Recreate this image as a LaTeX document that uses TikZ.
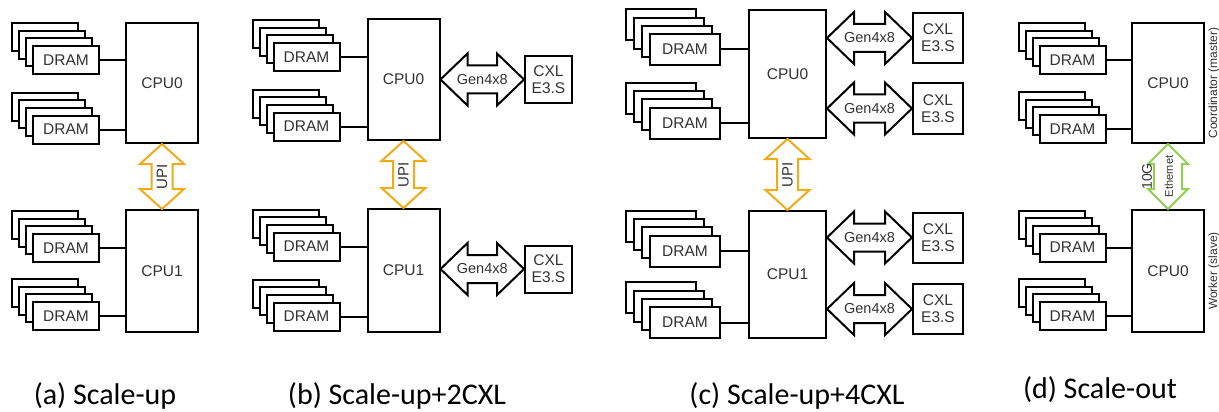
\documentclass[tikz,border=0pt]{standalone}
\usepackage{fontspec}
\setmainfont{Liberation Sans}
\newfontfamily\capfont{Carlito}
\usetikzlibrary{positioning,calc}

\definecolor{upiorange}{RGB}{240,172,24}
\definecolor{ethgreen}{RGB}{146,208,80}

\tikzset{
  unitnode/.style={draw,line width=2pt,fill=white,inner sep=0pt,text=black!80},
  dramnode/.style={unitnode,minimum width=66pt,minimum height=28pt,font=\fontsize{15.5}{18}\selectfont},
  cpunode/.style={unitnode,minimum width=72pt,minimum height=121pt,font=\fontsize{15.5}{18}\selectfont},
  cxlnode/.style={unitnode,minimum width=47pt,minimum height=47pt,align=center,font=\fontsize{15.5}{17}\selectfont},
  wire/.style={line width=2pt},
  pcielink/.style={draw=black,fill=white,line width=2pt},
  upilink/.style={draw=upiorange,fill=white,line width=2pt},
  ethlink/.style={draw=ethgreen,fill=white,line width=2pt},
  linktext/.style={text=black!80,inner sep=0pt},
  captext/.style={font=\capfont\fontsize{30}{34}\selectfont,anchor=base},
}

% stack of DRAM modules: [style]{name}{x}{y} of the front module
\newcommand{\dramdx}{7}
\newcommand{\dramdy}{7.6}
\newcommand{\dramstack}[4][]{%
  \foreach \k in {3,2,1}
    \node[dramnode,#1] (#2-\k) at (#3-\dramdx*\k,#4-\dramdy*\k) {};
  \node[dramnode,#1] (#2) at (#3,#4) {DRAM};
}

% Gen4x8 double arrow from a CPU to a CXL device
\newcommand{\hlink}[2]{%
  \draw[pcielink] (#1.east |- #2.west) -- ++(27,-26) -- ++(0,12)
    -- ($(#2.west)+(-27,-14)$) -- ++(0,-12) -- (#2.west) -- ++(-27,26)
    -- ++(0,-12) -- ($(#1.east |- #2.west)+(27,14)$) -- ++(0,12) -- cycle;
  \node[linktext,font=\fontsize{14.5}{16}\selectfont] (#2-lbl)
    at ($(#1.east |- #2.west)!0.5!(#2.west)$) {Gen4x8};
}

% vertical double arrow: style, upper CPU, lower CPU, head half width, shaft half width
\newcommand{\vlink}[5]{%
  \draw[#1] (#2.south) -- ++(#4,20) -- ++(#5-#4,0)
    -- ($(#3.north)+(#5,-20)$) -- ++(#4-#5,0) -- (#3.north) -- ++(-#4,-20)
    -- ++(#4-#5,0) -- ($(#2.south)+(-#5,20)$) -- ++(#5-#4,0) -- cycle;
}

\begin{document}
\begin{tikzpicture}[x=1pt,y=-1pt]
    \useasboundingbox (0,0) rectangle (1219,412);

    % (a) Scale-up
    \node[cpunode,minimum height=120pt] (cpuA0) at (162,83) {CPU0};
    \node[cpunode,minimum height=122pt] (cpuA1) at (162,271) {CPU1};
    \dramstack{dramA0a}{66}{60}
    \dramstack{dramA0b}{66}{129.5}
    \dramstack{dramA1a}{66}{248}
    \dramstack{dramA1b}{66}{316}
    \foreach \d/\c in {dramA0a/cpuA0,dramA0b/cpuA0,dramA1a/cpuA1,dramA1b/cpuA1}
        \draw[wire] (\d.east) -- (\d.east -| \c.west);
    \vlink{upilink}{cpuA0}{cpuA1}{22}{10.5}
    \node[linktext,rotate=90,font=\fontsize{15}{17}\selectfont] (upiA)
        at ($(cpuA0.south)!0.5!(cpuA1.north)$) {UPI};

    % (b) Scale-up+2CXL
    \node[cpunode] (cpuB0) at (403.5,79.5) {CPU0};
    \node[cpunode,minimum height=123pt] (cpuB1) at (403.5,270.5) {CPU1};
    \dramstack{dramB0a}{306.5}{57}
    \dramstack{dramB0b}{306.5}{126.5}
    \dramstack{dramB1a}{306.5}{246.5}
    \dramstack{dramB1b}{306.5}{316.5}
    \foreach \d/\c in {dramB0a/cpuB0,dramB0b/cpuB0,dramB1a/cpuB1,dramB1b/cpuB1}
        \draw[wire] (\d.east) -- (\d.east -| \c.west);
    \node[cxlnode] (cxlB0) at (548.5,79.5) {CXL\\E3.S};
    \node[cxlnode] (cxlB1) at (548.5,269) {CXL\\E3.S};
    \hlink{cpuB0}{cxlB0}
    \hlink{cpuB1}{cxlB1}
    \vlink{upilink}{cpuB0}{cpuB1}{22}{10.5}
    \node[linktext,rotate=90,font=\fontsize{15}{17}\selectfont] (upiB)
        at ($(cpuB0.south)!0.5!(cpuB1.north)$) {UPI};

    % (c) Scale-up+4CXL
    \begin{scope}
    \renewcommand{\dramdx}{8}
    \renewcommand{\dramdy}{8.2}
    \node[cpunode,minimum width=77pt,minimum height=128pt] (cpuC0) at (787.5,74) {CPU0};
    \node[cpunode,minimum width=77pt,minimum height=127pt] (cpuC1) at (787.5,274.5) {CPU1};
    \dramstack[minimum width=70pt,minimum height=31pt]{dramC0a}{685}{49.5}
    \dramstack[minimum width=70pt,minimum height=31pt]{dramC0b}{685}{123}
    \dramstack[minimum width=70pt,minimum height=31pt]{dramC1a}{685}{251}
    \dramstack[minimum width=70pt,minimum height=31pt]{dramC1b}{685}{322.5}
    \foreach \d/\c in {dramC0a/cpuC0,dramC0b/cpuC0,dramC1a/cpuC1,dramC1b/cpuC1}
        \draw[wire] (\d.east) -- (\d.east -| \c.west);
    \foreach \n/\y in {0/38,1/108.5,2/237.5,3/309}
        \node[cxlnode,minimum width=50pt,minimum height=50pt] (cxlC\n) at (938,\y) {CXL\\E3.S};
    \hlink{cpuC0}{cxlC0}
    \hlink{cpuC0}{cxlC1}
    \hlink{cpuC1}{cxlC2}
    \hlink{cpuC1}{cxlC3}
    \vlink{upilink}{cpuC0}{cpuC1}{22}{10.5}
    \node[linktext,rotate=90,font=\fontsize{15}{17}\selectfont] (upiC)
        at ($(cpuC0.south)!0.5!(cpuC1.north)$) {UPI};
    \end{scope}

    % (d) Scale-out
    \node[cpunode,minimum height=120pt] (cpuD0) at (1168,83) {CPU0};
    \node[cpunode,minimum height=122pt] (cpuD1) at (1168,271) {CPU0};
    \dramstack{dramD0a}{1072.5}{60}
    \dramstack{dramD0b}{1072.5}{129}
    \dramstack{dramD1a}{1072.5}{247.5}
    \dramstack{dramD1b}{1072.5}{316}
    \foreach \d/\c in {dramD0a/cpuD0,dramD0b/cpuD0,dramD1a/cpuD1,dramD1b/cpuD1}
        \draw[wire] (\d.east) -- (\d.east -| \c.west);
    \vlink{ethlink}{cpuD0}{cpuD1}{20}{14}
    \coordinate (ethmid) at ($(cpuD0.south)!0.5!(cpuD1.north)$);
    \node[linktext,rotate=90,font=\fontsize{14}{16}\selectfont] (tenG) at ($(ethmid)+(-21,0)$) {10G};
    \node[linktext,rotate=90,font=\fontsize{11}{13}\selectfont] (ethD) at ($(ethmid)+(1,0)$) {Ethernet};
    \node[linktext,rotate=90,font=\fontsize{12}{14}\selectfont] (roleD0) at ($(cpuD0.east)+(9,0)$) {Coordinator (master)};
    \node[linktext,rotate=90,font=\fontsize{12}{14}\selectfont] (roleD1) at ($(cpuD1.east)+(9,0)$) {Worker (slave)};

    % captions
    \node[captext] (capA) at (105,404) {(a) Scale-up};
    \node[captext] (capB) at (397,404) {(b) Scale-up+2CXL};
    \node[captext] (capC) at (797,404) {(c) Scale-up+4CXL};
    \node[captext] (capD) at (1100,398) {(d) Scale-out};
\end{tikzpicture}
\end{document}
